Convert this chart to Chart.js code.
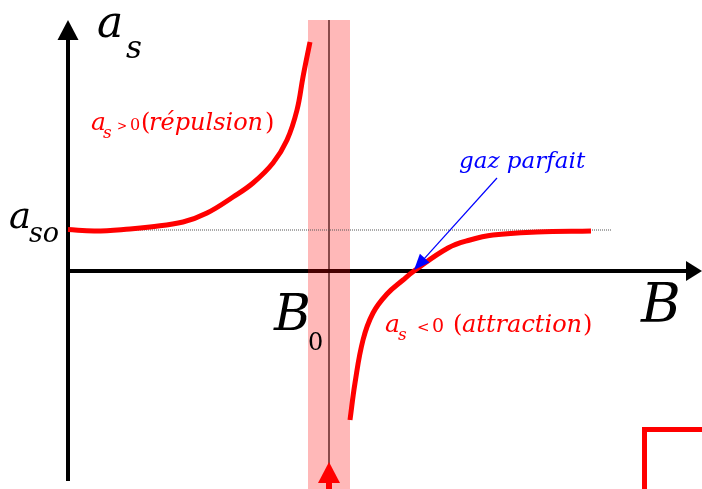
<!DOCTYPE html>
<html>
<head>
<meta charset="utf-8">
<title>Résonance de Feshbach</title>
<script src="https://cdn.jsdelivr.net/npm/chart.js@4.4.1/dist/chart.umd.min.js"></script>
<style>
  html, body { margin: 0; padding: 0; background: #ffffff; }
  #c { display: block; }
</style>
</head>
<body>
<canvas id="c" width="702" height="489"></canvas>
<script>
// Scattering length a_s versus magnetic field B around a Feshbach resonance.
// Field in arbitrary units; the resonance sits at B0.
const B0 = 26.1;
const resonanceHalfWidth = 2.1;
const aS0 = 4.1;                      // background scattering length
const dottedEnd = 54.4;

// Branch below the resonance (a_s > 0, repulsive)
const fieldLow = [0, 2.7, 6.2, 8.2, 11.5, 13.9, 16.5, 18.5, 20.5, 21.9, 22.9, 23.5, 24.2];
const aLow     = [4.15, 4.0, 4.2, 4.4, 4.9, 5.8, 7.4, 8.8, 10.8, 13.1, 16.1, 19.4, 22.9];

// Branch above the resonance (a_s < 0 then back to a_s0)
const fieldHigh = [28.2, 28.7, 29.5, 30.5, 31.9, 33.5, 34.6, 38.0, 40.2, 42.5, 46.9, 52.3];
const aHigh     = [-14.9, -11.2, -6.9, -4.2, -2.3, -0.9, 0.0, 2.3, 3.1, 3.6, 3.9, 4.0];

// Point where a_s crosses zero (ideal gas)
const idealGasB = 34.6;

const toPoints = (xs, ys) => xs.map((x, i) => ({ x: x, y: ys[i] }));

const SERIF = '"DejaVu Serif", "Liberation Serif", serif';
const RED = '#ff0000';
const BLUE = '#0000ff';

// Draws text pieces, each at its own x offset from a shared origin.
function drawPieces(ctx, x, y, pieces, color) {
  ctx.fillStyle = color;
  ctx.textBaseline = 'alphabetic';
  ctx.textAlign = 'left';
  for (const p of pieces) {
    ctx.font = p.font;
    ctx.fillText(p.t, x + p.dx, y + (p.dy || 0));
  }
}

function arrowHead(ctx, tipX, tipY, angle, len, half, color) {
  ctx.save();
  ctx.translate(tipX, tipY);
  ctx.rotate(angle);
  ctx.beginPath();
  ctx.moveTo(0, 0);
  ctx.lineTo(-len, -half);
  ctx.lineTo(-len, half);
  ctx.closePath();
  ctx.fillStyle = color;
  ctx.fill();
  ctx.restore();
}

const backdrop = {
  id: 'backdrop',
  beforeDatasetsDraw(chart) {
    const ctx = chart.ctx;
    const xs = chart.scales.x, ys = chart.scales.y;
    const ox = xs.getPixelForValue(0);
    const oy = ys.getPixelForValue(0);
    const right = chart.width;
    ctx.save();
    // axes
    ctx.strokeStyle = '#000000';
    ctx.lineWidth = 4;
    ctx.beginPath();
    ctx.moveTo(ox, 481);
    ctx.lineTo(ox, 38);
    ctx.moveTo(ox - 2, oy);
    ctx.lineTo(right - 14, oy);
    ctx.stroke();
    arrowHead(ctx, ox, 20, -Math.PI / 2, 20, 10.5, '#000000');
    arrowHead(ctx, right, oy, 0, 16, 10, '#000000');

    // resonance band
    const bl = xs.getPixelForValue(B0 - resonanceHalfWidth);
    const br = xs.getPixelForValue(B0 + resonanceHalfWidth);
    const bc = xs.getPixelForValue(B0);
    ctx.fillStyle = 'rgba(255, 0, 0, 0.28)';
    ctx.fillRect(bl, 20, br - bl, chart.height - 20);
    ctx.strokeStyle = '#3a0000';
    ctx.lineWidth = 1.2;
    ctx.beginPath();
    ctx.moveTo(bc, 20);
    ctx.lineTo(bc, 464);
    ctx.stroke();
    // field sweep arrow at the bottom
    arrowHead(ctx, bc, 462, -Math.PI / 2, 21, 11, RED);
    ctx.fillStyle = RED;
    ctx.fillRect(bc - 3, 482, 6, chart.height - 482);
    ctx.restore();
  },
  afterDatasetsDraw(chart) {
    const ctx = chart.ctx;
    const xs = chart.scales.x, ys = chart.scales.y;
    ctx.save();
    // axis labels
    drawPieces(ctx, 97, 37, [
      { t: 'a', font: 'italic 44px ' + SERIF, dx: 0 },
      { t: 's', font: 'italic 31px ' + SERIF, dx: 29, dy: 21 }
    ], '#000000');
    drawPieces(ctx, 9, 228, [
      { t: 'a', font: 'italic 37px ' + SERIF, dx: 0 },
      { t: 'so', font: 'italic 27px ' + SERIF, dx: 20, dy: 14 }
    ], '#000000');
    drawPieces(ctx, 641, 322, [{ t: 'B', font: 'italic 54px ' + SERIF, dx: 0 }], '#000000');
    drawPieces(ctx, 274, 330, [
      { t: 'B', font: 'italic 50px ' + SERIF, dx: 0 },
      { t: '0', font: '24px ' + SERIF, dx: 34, dy: 20 }
    ], '#000000');

    // regime labels
    drawPieces(ctx, 91, 130, [
      { t: 'a', font: 'italic 25px ' + SERIF, dx: 0 },
      { t: 's', font: 'italic 17px ' + SERIF, dx: 12, dy: 8 },
      { t: '>', font: '12px ' + SERIF, dx: 26 },
      { t: '0', font: '16px ' + SERIF, dx: 39 },
      { t: '(', font: '24px ' + SERIF, dx: 50 },
      { t: 'répulsion', font: 'italic 24px ' + SERIF, dx: 58 },
      { t: ')', font: '24px ' + SERIF, dx: 174 }
    ], RED);
    drawPieces(ctx, 385, 332, [
      { t: 'a', font: 'italic 25px ' + SERIF, dx: 0 },
      { t: 's', font: 'italic 17px ' + SERIF, dx: 13, dy: 8 },
      { t: '<', font: '15px ' + SERIF, dx: 32 },
      { t: '0', font: '19px ' + SERIF, dx: 47 },
      { t: '(', font: '24px ' + SERIF, dx: 68 },
      { t: 'attraction', font: 'italic 24px ' + SERIF, dx: 77 },
      { t: ')', font: '24px ' + SERIF, dx: 198 }
    ], RED);

    // ideal gas pointer
    drawPieces(ctx, 459, 168, [{ t: 'gaz parfait', font: 'italic 23px ' + SERIF, dx: 0 }], BLUE);
    const tx = xs.getPixelForValue(idealGasB);
    const ty = ys.getPixelForValue(0) - 1;
    const sx = 497, sy = 178;
    const ang = Math.atan2(ty - sy, tx - sx);
    ctx.strokeStyle = BLUE;
    ctx.lineWidth = 1.2;
    ctx.beginPath();
    ctx.moveTo(sx, sy);
    ctx.lineTo(tx - Math.cos(ang) * 12, ty - Math.sin(ang) * 12);
    ctx.stroke();
    arrowHead(ctx, tx, ty, ang, 16, 6.5, BLUE);

    // frame corner at the lower right
    ctx.strokeStyle = RED;
    ctx.lineWidth = 5;
    ctx.lineCap = 'butt';
    ctx.beginPath();
    ctx.moveTo(644.5, chart.height + 2);
    ctx.lineTo(644.5, 429.5);
    ctx.lineTo(chart.width + 2, 429.5);
    ctx.stroke();
    ctx.restore();
  }
};

new Chart(document.getElementById('c'), {
  type: 'line',
  data: {
    datasets: [
      {
        data: toPoints([0, dottedEnd], [aS0, aS0]),
        borderColor: '#555555',
        borderWidth: 1,
        borderDash: [1, 1],
        pointRadius: 0,
        order: 3
      },
      {
        data: toPoints(fieldLow, aLow),
        borderColor: RED,
        borderWidth: 5,
        tension: 0.4,
        pointRadius: 0,
        order: 1
      },
      {
        data: toPoints(fieldHigh, aHigh),
        borderColor: RED,
        borderWidth: 5,
        tension: 0.4,
        pointRadius: 0,
        order: 2
      }
    ]
  },
  options: {
    responsive: false,
    devicePixelRatio: 1,
    animation: false,
    events: [],
    layout: { padding: 0 },
    plugins: { legend: { display: false }, tooltip: { enabled: false } },
    scales: {
      x: { type: 'linear', display: false, min: -6.8, max: 63.4 },
      y: { type: 'linear', display: false, min: -21.8, max: 27.1 }
    }
  },
  plugins: [backdrop]
});
</script>
</body>
</html>
